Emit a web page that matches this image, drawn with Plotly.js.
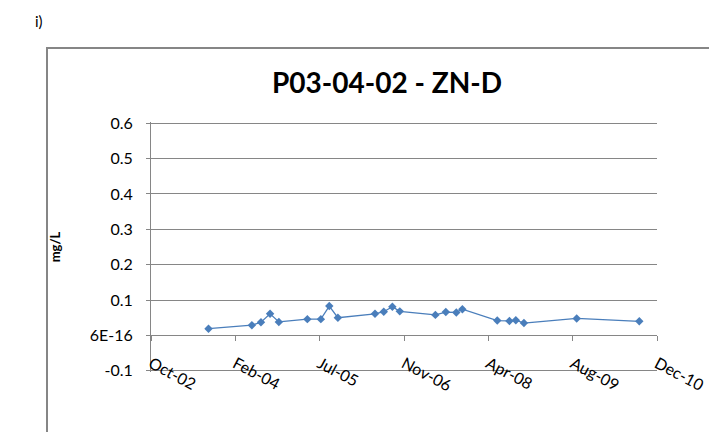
<!DOCTYPE html>
<html>
<head>
<meta charset="utf-8">
<script src="https://cdn.plot.ly/plotly-3.0.1.min.js"></script>
<style>html,body{margin:0;padding:0;background:#fff;}#chart{width:709px;height:432px;}</style>
</head>
<body>
<div id="chart"></div>
<script>
const sampleDates = ["2003-09-17","2004-05-31","2004-07-24","2004-09-16","2004-11-07","2005-04-25","2005-07-14","2005-09-02","2005-10-23","2006-05-31","2006-07-22","2006-09-11","2006-10-25","2007-05-24","2007-07-25","2007-09-25","2007-10-31","2008-05-25","2008-08-05","2008-09-12","2008-10-30","2009-09-08","2010-09-14"];
const znValues = [0.019,0.029,0.037,0.061,0.038,0.046,0.046,0.083,0.050,0.061,0.067,0.081,0.068,0.058,0.066,0.065,0.074,0.042,0.041,0.043,0.035,0.048,0.040];
const xTickVals = ["2002-10-11","2004-02-23","2005-07-07","2006-11-19","2008-04-02","2009-08-15","2010-12-28"];
const xTickText = ["Oct-02","Feb-04","Jul-05","Nov-06","Apr-08","Aug-09","Dec-10"];
const yTickVals = [-0.1,0,0.1,0.2,0.3,0.4,0.5,0.6];
const yTickText = ["-0.1","6E-16","0.1","0.2","0.3","0.4","0.5","0.6"];
const chartTitle = "P03-04-02 - ZN-D";
const yTitle = "mg/L";
const panelLabel = "i)";

const grey = "#868686";
const font = "Lato, 'Open Sans', sans-serif";

// tiny padding so gridlines at -0.1 and 0.6 are still drawn
const pad = 0.0035;
const yRange = [-0.1 - pad, 0.6 + pad];
const zeroPos = (0 - yRange[0]) / (yRange[1] - yRange[0]);

const trace = {
  x: sampleDates, y: znValues, type: "scatter", mode: "lines+markers",
  line: {color: "#4a7ebb", width: 1.25},
  marker: {symbol: "diamond", size: 6.5, color: "#4a7ebb"},
  showlegend: false, hoverinfo: "skip"
};

const plotL = 151, plotR = 657, plotT = 122, plotB = 372;
const pw = plotR - plotL, ph = plotB - plotT;

const layout = {
  width: 709, height: 432,
  margin: {l: plotL, r: 709 - plotR, t: plotT, b: 432 - plotB, pad: 0},
  paper_bgcolor: "#fff", plot_bgcolor: "#fff",
  font: {family: font, color: "#000", size: 13},
  title: {text: "<b>" + chartTitle + "</b>", font: {family: font, size: 28, color: "#000"},
          x: (387 - plotL) / pw, xref: "paper", xanchor: "center",
          y: 1 - 83 / 432, yref: "container", yanchor: "middle"},
  xaxis: {
    type: "date", range: [xTickVals[0], xTickVals[xTickVals.length-1]],
    tickmode: "array", tickvals: xTickVals, ticktext: xTickText,
    tickangle: 28, showgrid: false, zeroline: false,
    anchor: "free", position: zeroPos,
    showline: true, linecolor: grey, linewidth: 1,
    ticks: "outside", ticklen: 5, tickcolor: grey,
    ticklabelstandoff: 7,
    tickfont: {family: font, size: 16, color: "#000"}
  },
  yaxis: {
    range: yRange, tickmode: "array", tickvals: yTickVals, ticktext: yTickText,
    showgrid: true, gridcolor: grey, gridwidth: 1, zeroline: false,
    showline: true, linecolor: grey, linewidth: 1,
    ticks: "outside", ticklen: 4, tickcolor: grey,
    ticklabelstandoff: 10,
    tickfont: {family: font, size: 16, color: "#000"},
    title: {text: "<b>" + yTitle + "</b>", font: {family: font, size: 13, color: "#000"}, standoff: 26}
  },
  shapes: [
    {type: "rect", xref: "paper", yref: "paper", x0: (47 - plotL) / pw, x1: 1.5, y0: -1, y1: (plotB - 48) / ph,
     line: {color: grey, width: 2}, fillcolor: "rgba(0,0,0,0)", layer: "below"}
  ],
  annotations: [
    {text: panelLabel, xref: "paper", yref: "paper", x: (33 - plotL) / pw, y: (plotB - 21) / ph,
     xanchor: "left", yanchor: "middle", showarrow: false, font: {family: font, size: 15, color: "#000"}}
  ]
};

Plotly.newPlot("chart", [trace], layout, {staticPlot: true});
</script>
</body>
</html>
